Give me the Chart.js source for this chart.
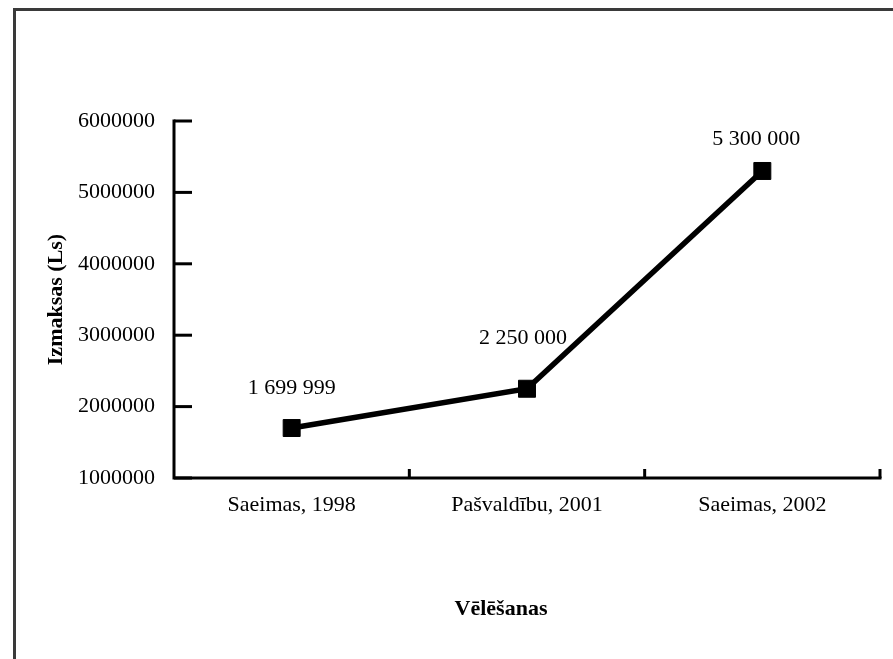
<!DOCTYPE html>
<html>
<head>
<meta charset="utf-8">
<script src="https://cdn.jsdelivr.net/npm/chart.js@4/dist/chart.umd.min.js"></script>
<style>
  html, body { margin: 0; padding: 0; background: #fff; }
  canvas { display: block; }
</style>
</head>
<body>
<canvas id="costChart" width="893" height="659"></canvas>
<script>
// Vēlēšanu izmaksas
const elections = ["Saeimas, 1998", "Pašvaldību, 2001", "Saeimas, 2002"];
const costs = [1699999, 2250000, 5300000];
const costLabels = ["1 699 999", "2 250 000", "5 300 000"];
const yMin = 1000000;
const yMax = 6000000;
const yStep = 1000000;

// label placement above the points (px)
const labelLift = [40, 51, 32];
const labelShift = [0, -4, -6];

const FONT = "'Liberation Serif', 'Times New Roman', serif";

document.addEventListener("DOMContentLoaded", () => {
  Chart.defaults.color = "#000";
  Chart.defaults.font.family = FONT;

  const ctx = document.getElementById("costChart").getContext("2d");

  const framePlugin = {
    id: "frameAndAxes",
    beforeDraw: (chart) => {
      const { ctx } = chart;
      ctx.save();
      ctx.strokeStyle = "#3a3a3a";
      ctx.lineWidth = 3;
      ctx.beginPath();
      ctx.moveTo(14.5, chart.height);
      ctx.lineTo(14.5, 9.5);
      ctx.lineTo(chart.width, 9.5);
      ctx.stroke();
      ctx.restore();
    },
    afterDraw: (chart) => {
      const { ctx, chartArea } = chart;
      const x = chart.scales.x;
      const y = chart.scales.y;
      ctx.save();
      ctx.strokeStyle = "#000";
      ctx.lineWidth = 3;
      ctx.lineCap = "square";

      // axes
      ctx.beginPath();
      ctx.moveTo(chartArea.left, y.getPixelForValue(yMax));
      ctx.lineTo(chartArea.left, chartArea.bottom);
      ctx.lineTo(chartArea.right, chartArea.bottom);
      ctx.stroke();

      // y ticks (inward)
      ctx.lineCap = "butt";
      y.ticks.forEach((t) => {
        const py = y.getPixelForValue(t.value);
        ctx.beginPath();
        ctx.moveTo(chartArea.left, py);
        ctx.lineTo(chartArea.left + 18, py);
        ctx.stroke();
      });

      // x ticks between categories (upward)
      for (let i = 0; i < elections.length; i++) {
        const px = x.getPixelForValue(i + 0.5);
        ctx.beginPath();
        ctx.moveTo(px, chartArea.bottom);
        ctx.lineTo(px, chartArea.bottom - 9);
        ctx.stroke();
      }

      // x axis title
      ctx.fillStyle = "#000";
      ctx.font = "bold 22px " + FONT;
      ctx.textAlign = "center";
      ctx.textBaseline = "middle";
      ctx.fillText("Vēlēšanas", chartArea.left + (chartArea.right - chartArea.left) / 2 - 26, 609);
      ctx.restore();
    },
    afterDatasetsDraw: (chart) => {
      const { ctx } = chart;
      const meta = chart.getDatasetMeta(0);
      ctx.save();
      ctx.fillStyle = "#000";
      ctx.font = "22px " + FONT;
      ctx.textAlign = "center";
      ctx.textBaseline = "middle";
      meta.data.forEach((pt, i) => {
        ctx.fillText(costLabels[i], pt.x + labelShift[i], pt.y - labelLift[i]);
      });
      ctx.restore();
    },
  };

  new Chart(ctx, {
    type: "line",
    data: {
      labels: elections,
      datasets: [
        {
          label: "Izmaksas",
          data: costs,
          borderColor: "#000",
          backgroundColor: "#000",
          borderWidth: 5.5,
          tension: 0,
          pointStyle: "rect",
          pointRadius: 12,
          pointBorderWidth: 1,
          pointBackgroundColor: "#000",
          pointBorderColor: "#000",
        },
      ],
    },
    options: {
      responsive: false,
      animation: false,
      layout: { padding: { left: 43, top: 121, right: 11, bottom: 0 } },
      scales: {
        x: {
          offset: true,
          grid: { display: false },
          border: { display: false },
          ticks: { font: { size: 22 }, padding: 6, maxRotation: 0 },
          afterFit: (scale) => {
            scale.height = 181;
          },
        },
        y: {
          min: yMin,
          max: yMax,
          grid: { display: false },
          border: { display: false },
          ticks: {
            stepSize: yStep,
            font: { size: 22 },
            padding: 11,
            callback: (v) => String(v),
          },
          title: {
            display: true,
            text: "Izmaksas (Ls)",
            font: { size: 22, weight: "bold" },
            padding: 0,
          },
          afterFit: (scale) => {
            scale.width = 131;
          },
        },
      },
      plugins: {
        legend: { display: false },
        tooltip: { enabled: false },
      },
    },
    plugins: [framePlugin],
  });
});
</script>
</body>
</html>
